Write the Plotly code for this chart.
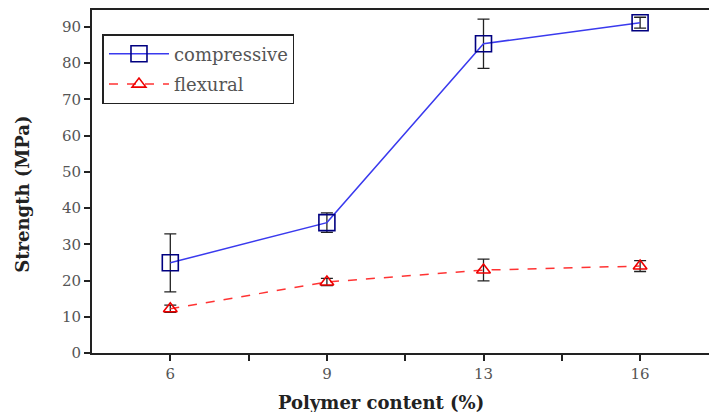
import plotly.graph_objects as go

# Polymer content categories (%)
categories = ["6", "9", "13", "16"]

# Mean strength values (MPa) and error-bar half widths
compressive = [24.9, 36.0, 85.4, 91.2]
compressive_err = [8.0, 2.7, 6.8, 1.5]
flexural = [12.2, 19.6, 22.9, 24.0]
flexural_err = [1.0, 1.0, 3.0, 1.5]

y_ticks = [0, 10, 20, 30, 40, 50, 60, 70, 80, 90]

x_title = "Polymer content (%)"
y_title = "Strength (MPa)"

x_pos = list(range(len(categories)))
serif = "DejaVu Serif"

fig = go.Figure()

fig.add_trace(go.Scatter(
    x=x_pos, y=compressive, name="compressive", legendgroup="c",
    mode="lines+markers",
    line=dict(color="#3a3aee", width=1.5),
    marker=dict(symbol="square-open", size=16, color="#000080",
                line=dict(width=1.6, color="#000080")),
    error_y=dict(type="data", array=compressive_err, visible=True,
                 color="#222222", thickness=1.3, width=6),
))

fig.add_trace(go.Scatter(
    x=x_pos, y=flexural, name="flexural", legendgroup="f",
    mode="lines+markers",
    line=dict(color="#ff3333", width=1.5, dash="dash"),
    marker=dict(symbol="triangle-up-open", size=12, color="#ee0000",
                line=dict(width=1.6, color="#ee0000")),
    error_y=dict(type="data", array=flexural_err, visible=True,
                 color="#222222", thickness=1.3, width=6),
))

fig.update_layout(
    width=709, height=412,
    margin=dict(l=92, r=0, t=10, b=59),
    plot_bgcolor="white", paper_bgcolor="white",
    font=dict(family=serif, color="#444444"),
    showlegend=True,
    legend=dict(
        x=0.017, y=0.93, xanchor="left", yanchor="top",
        bordercolor="#222222", borderwidth=1.5, bgcolor="white",
        font=dict(family=serif, size=18, color="#555555"),
        itemwidth=60, traceorder="grouped", tracegroupgap=4,
    ),
)

fig.update_xaxes(
    range=[-0.5, 3.44],
    tickvals=x_pos, ticktext=categories,
    ticks="outside", ticklen=6, tickwidth=1.5, tickcolor="#222222",
    minor=dict(tickvals=[0.5, 1.5, 2.5], ticks="outside", ticklen=6,
               tickwidth=1.5, tickcolor="#222222"),
    showline=True, linecolor="#222222", linewidth=2, mirror=True,
    showgrid=False, zeroline=False,
    tickfont=dict(family=serif, size=15, color="#555555"),
)

fig.update_yaxes(
    range=[0, 94.7],
    tickvals=y_ticks,
    ticks="outside", ticklen=6, tickwidth=1.5, tickcolor="#222222",
    showline=True, linecolor="#222222", linewidth=2, mirror=False,
    showgrid=False, zeroline=False,
    tickfont=dict(family=serif, size=15, color="#555555"),
)

# Axis titles placed as paper-anchored annotations
fig.add_annotation(
    text=f"<b>{x_title}</b>", xref="paper", yref="paper",
    x=0.468, y=-0.143, xanchor="center", yanchor="middle",
    showarrow=False, font=dict(family=serif, size=18, color="#222222"),
)
fig.add_annotation(
    text=f"<b>{y_title}</b>", xref="paper", yref="paper",
    x=-0.112, y=0.464, xanchor="center", yanchor="middle", textangle=-90,
    showarrow=False, font=dict(family=serif, size=18, color="#222222"),
)

fig.write_html("out.html")
